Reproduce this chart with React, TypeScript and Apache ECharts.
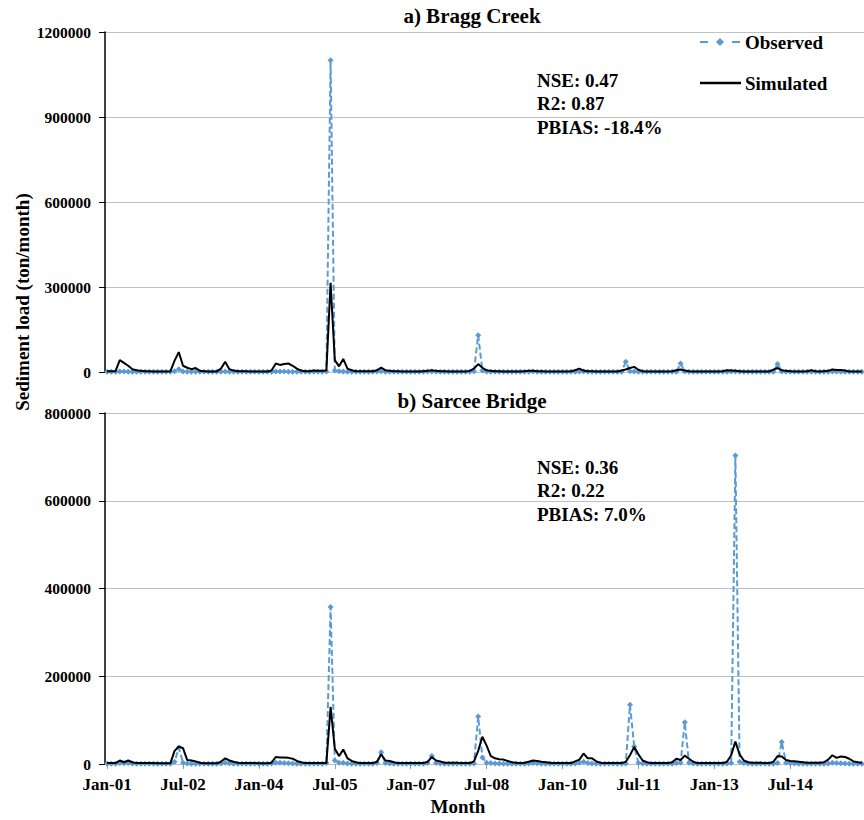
import React, { useEffect, useRef } from "react";
import * as echarts from "echarts";

const MONTHS = ["Jan", "Feb", "Mar", "Apr", "May", "Jun", "Jul", "Aug", "Sep", "Oct", "Nov", "Dec"];
const YEARS = ["01", "02", "03", "04", "05", "06", "07", "08", "09", "10", "11", "12", "13", "14", "15"];
const categories = YEARS.flatMap((y) => MONTHS.map((m) => `${m}-${y}`));

// a) Bragg Creek
const observedA = [
  800, 800, 800, 1500, 1500, 1000, 800, 800, 800, 800, 800, 800,
  800, 800, 800, 800, 3000, 10000, 2000, 1000, 800, 800, 800, 800,
  800, 800, 800, 1000, 2000, 1000, 800, 800, 800, 800, 800, 800,
  800, 800, 800, 1000, 2000, 2000, 1500, 1000, 800, 800, 800, 800,
  800, 800, 800, 800, 2000, 1100000, 5000, 3000, 2000, 1000, 800, 800,
  800, 800, 800, 800, 1500, 3000, 1000, 800, 800, 800, 800, 800,
  800, 800, 800, 800, 1500, 2000, 1000, 800, 800, 800, 800, 800,
  800, 800, 800, 3000, 130000, 5000, 2000, 1000, 800, 800, 800, 800,
  800, 800, 800, 800, 1000, 1500, 1000, 800, 800, 800, 800, 800,
  800, 800, 800, 1000, 2000, 1500, 800, 800, 800, 800, 800, 800,
  800, 800, 1000, 36000, 3000, 2000, 1000, 800, 800, 800, 800, 800,
  800, 800, 800, 1000, 30000, 2000, 1000, 800, 800, 800, 800, 800,
  800, 800, 800, 1000, 2000, 2000, 1000, 800, 800, 800, 800, 800,
  800, 800, 1000, 28000, 2000, 1000, 800, 800, 800, 800, 800, 800,
  800, 800, 800, 1000, 2000, 1500, 1000, 800, 800, 800, 800, 800,
];
const simulatedA = [
  3000, 3000, 3000, 42000, 32000, 22000, 10000, 6000, 4000, 3000, 3000, 2000,
  2000, 2000, 2000, 2000, 40000, 70000, 22000, 15000, 10000, 14000, 4000, 3000,
  2000, 2000, 2000, 12000, 36000, 10000, 5000, 3000, 3000, 3000, 2000, 2000,
  2000, 2000, 2000, 5000, 30000, 25000, 28000, 30000, 22000, 12000, 5000, 3000,
  3000, 5000, 4000, 4000, 5000, 315000, 42000, 20000, 46000, 12000, 6000, 3000,
  3000, 3000, 3000, 3000, 6000, 16000, 6000, 4000, 3000, 3000, 2000, 2000,
  2000, 2000, 2000, 3000, 4000, 6000, 4000, 3000, 3000, 2000, 2000, 2000,
  2000, 2000, 4000, 12000, 28000, 15000, 6000, 4000, 3000, 3000, 2000, 2000,
  2000, 2000, 2000, 3000, 4000, 4000, 3000, 3000, 2000, 2000, 2000, 2000,
  2000, 2000, 3000, 6000, 12000, 5000, 3000, 3000, 2000, 2000, 2000, 2000,
  2000, 2000, 5000, 9000, 14000, 18000, 8000, 3000, 2000, 2000, 2000, 2000,
  2000, 2000, 3000, 6000, 9000, 5000, 3000, 2000, 2000, 2000, 2000, 2000,
  2000, 2000, 3000, 6000, 5000, 4000, 3000, 2000, 2000, 2000, 2000, 2000,
  2000, 2000, 8000, 14000, 6000, 4000, 3000, 2000, 2000, 2000, 3000, 6000,
  3000, 2000, 3000, 4000, 9000, 7000, 7000, 5000, 2000, 2000, 2000, 2000,
];

// b) Sarcee Bridge
const observedB = [
  500, 500, 500, 2000, 1500, 2000, 1000, 500, 500, 500, 500, 500,
  500, 500, 500, 500, 5000, 37000, 3000, 1000, 500, 500, 500, 500,
  500, 500, 500, 1000, 3000, 1500, 800, 500, 500, 500, 500, 500,
  500, 500, 500, 1000, 3000, 3000, 2000, 1500, 1000, 500, 500, 500,
  500, 500, 500, 500, 2000, 358000, 8000, 3000, 3000, 1000, 500, 500,
  500, 500, 500, 500, 2000, 27000, 2000, 1000, 500, 500, 500, 500,
  500, 500, 500, 500, 2000, 18000, 2000, 1000, 500, 500, 500, 500,
  500, 500, 500, 1000, 108000, 15000, 3000, 2000, 1000, 1000, 500, 500,
  500, 500, 500, 500, 1000, 2000, 1500, 500, 500, 500, 500, 500,
  500, 500, 500, 1000, 3000, 5000, 2000, 1000, 500, 500, 500, 500,
  500, 500, 500, 1000, 135000, 40000, 3000, 1000, 500, 500, 500, 500,
  500, 500, 500, 2000, 3000, 95000, 3000, 1000, 500, 500, 500, 500,
  500, 500, 500, 1000, 2000, 703000, 5000, 2000, 1000, 500, 500, 500,
  500, 500, 500, 2000, 50000, 3000, 1500, 1000, 500, 500, 500, 500,
  500, 500, 500, 1000, 3000, 2000, 1500, 1000, 500, 500, 500, 500,
];
const simulatedB = [
  2000, 2000, 2000, 8000, 4000, 8000, 4000, 2000, 2000, 2000, 2000, 2000,
  1500, 1500, 1500, 1500, 30000, 40000, 36000, 9000, 8000, 6000, 3000, 1500,
  1500, 1500, 1500, 5000, 13000, 8000, 5000, 3000, 2000, 2000, 2000, 2000,
  1500, 1500, 1500, 3000, 16000, 15000, 15000, 14000, 12000, 7000, 4000, 2000,
  2000, 2000, 2000, 2000, 2000, 130000, 35000, 18000, 33000, 13000, 7000, 4000,
  2000, 2000, 2000, 2000, 5000, 22000, 8000, 7000, 4000, 2000, 2000, 2000,
  2000, 2000, 2000, 2000, 5000, 16000, 8000, 6000, 3000, 3000, 3000, 3000,
  2000, 2000, 2000, 6000, 30000, 62000, 42000, 18000, 13000, 11000, 10000, 7000,
  4000, 3000, 2000, 3000, 5000, 8000, 7000, 5000, 4000, 3000, 2000, 2000,
  2000, 2000, 2000, 6000, 10000, 24000, 13000, 13000, 6000, 3000, 2000, 2000,
  2000, 2000, 2000, 5000, 20000, 39000, 22000, 8000, 4000, 2000, 2000, 2000,
  2000, 2000, 4000, 12000, 9000, 19000, 12000, 5000, 2000, 2000, 2000, 2000,
  2000, 2000, 2000, 5000, 20000, 51000, 22000, 8000, 4000, 3000, 3000, 3000,
  2000, 2000, 5000, 18000, 17000, 9000, 7000, 6000, 5000, 4000, 3000, 3000,
  3000, 3000, 4000, 10000, 20000, 14000, 17000, 16000, 12000, 6000, 4000, 3000,
];

const statsA = ["NSE: 0.47", "R2: 0.87", "PBIAS: -18.4%"];
const statsB = ["NSE: 0.36", "R2: 0.22", "PBIAS: 7.0%"];
const legendNames = ["Observed", "Simulated"];

const FONT = '"Liberation Serif", "Times New Roman", serif';
const BLUE = "#5B9BD5";
const GRIDC = "#c0c0c0";

function xAxisFor(gridIndex: number, showLabels: boolean) {
  return {
    gridIndex,
    type: "category",
    data: categories,
    boundaryGap: true,
    axisLine: { show: true, lineStyle: { color: GRIDC, width: 1 } },
    axisTick: {
      show: showLabels,
      interval: 17,
      alignWithLabel: true,
      length: 5,
      lineStyle: { color: "#999" },
    },
    axisLabel: {
      show: showLabels,
      interval: 17,
      fontSize: 17,
      fontWeight: "bold",
      color: "#000",
      fontFamily: FONT,
      margin: 12,
    },
    splitLine: { show: false },
  };
}

function yAxisFor(gridIndex: number, max: number, interval: number) {
  return {
    gridIndex,
    type: "value",
    min: 0,
    max,
    interval,
    axisLine: { show: true, lineStyle: { color: "#000", width: 1.5 } },
    axisTick: { show: true, length: 6, lineStyle: { color: "#000", width: 1 } },
    splitLine: { show: true, lineStyle: { color: GRIDC, width: 1 } },
    axisLabel: {
      formatter: (v: number) => String(v),
      fontSize: 15.5,
      fontWeight: "bold",
      color: "#000",
      fontFamily: FONT,
      margin: 14,
    },
  };
}

function obsSeries(idx: number, data: number[]) {
  return {
    name: legendNames[0],
    type: "line",
    xAxisIndex: idx,
    yAxisIndex: idx,
    data,
    showSymbol: true,
    showAllSymbol: true,
    symbol: "diamond",
    symbolSize: 6,
    itemStyle: { color: BLUE },
    lineStyle: { color: BLUE, width: 2, type: [6, 3] },
    z: 2,
  };
}

function simSeries(idx: number, data: number[]) {
  return {
    name: legendNames[1],
    type: "line",
    xAxisIndex: idx,
    yAxisIndex: idx,
    data,
    showSymbol: false,
    symbol: "none",
    itemStyle: { color: "#000" },
    lineStyle: { color: "#000", width: 2 },
    z: 3,
  };
}

function statText(lines: string[], y0: number) {
  return lines.map((t, i) => ({
    type: "text",
    x: 537,
    y: y0 + i * 23.5,
    style: {
      text: t,
      font: `bold 19px ${FONT}`,
      fill: "#000",
      textAlign: "left",
      textVerticalAlign: "middle",
    },
  }));
}

function label(text: string, x: number, y: number, size: number, align = "center") {
  return {
    type: "text",
    x,
    y,
    style: {
      text,
      font: `bold ${size}px ${FONT}`,
      fill: "#000",
      textAlign: align,
      textVerticalAlign: "middle",
    },
  };
}

export default function App() {
  const ref = useRef<HTMLDivElement>(null);
  useEffect(() => {
    if (!ref.current) return;
    const chart = echarts.init(ref.current, undefined, { renderer: "svg" });
    const legendGraphic = [
      // Observed: dash, diamond, dash
      { type: "line", shape: { x1: 700, y1: 42, x2: 708, y2: 42 }, style: { stroke: BLUE, lineWidth: 2 } },
      { type: "line", shape: { x1: 732, y1: 42, x2: 740, y2: 42 }, style: { stroke: BLUE, lineWidth: 2 } },
      {
        type: "polygon",
        shape: { points: [[720, 38], [724, 42], [720, 46], [716, 42]] },
        style: { fill: BLUE },
      },
      label(legendNames[0], 745, 42, 19, "left"),
      // Simulated: solid line
      { type: "line", shape: { x1: 700, y1: 83, x2: 741, y2: 83 }, style: { stroke: "#000", lineWidth: 2.5 } },
      label(legendNames[1], 745, 83, 19, "left"),
    ];
    const option: any = {
      animation: false,
      backgroundColor: "#fff",
      textStyle: { fontFamily: FONT },
      grid: [
        { left: 105, top: 32, height: 340, right: -8 },
        { left: 105, top: 413, height: 351, right: -8 },
      ],
      xAxis: [xAxisFor(0, false), xAxisFor(1, true)],
      yAxis: [yAxisFor(0, 1200000, 300000), yAxisFor(1, 800000, 200000)],
      series: [
        obsSeries(0, observedA),
        simSeries(0, simulatedA),
        obsSeries(1, observedB),
        simSeries(1, simulatedB),
      ],
      graphic: [
        label("a) Bragg Creek", 472, 16, 21),
        label("b) Sarcee Bridge", 472, 401, 21),
        ...statText(statsA, 80),
        ...statText(statsB, 467),
        ...legendGraphic,
        label("Month", 458, 806, 19),
        {
          type: "text",
          x: 22,
          y: 302,
          rotation: Math.PI / 2,
          style: {
            text: "Sediment load (ton/month)",
            font: `bold 19px ${FONT}`,
            fill: "#000",
            textAlign: "center",
            textVerticalAlign: "middle",
          },
        },
      ],
    };
    chart.setOption(option);
    return () => chart.dispose();
  }, []);
  return (
    <div
      ref={ref}
      style={{ position: "fixed", left: 0, top: 0, width: 864, height: 820, background: "#fff" }}
    />
  );
}
